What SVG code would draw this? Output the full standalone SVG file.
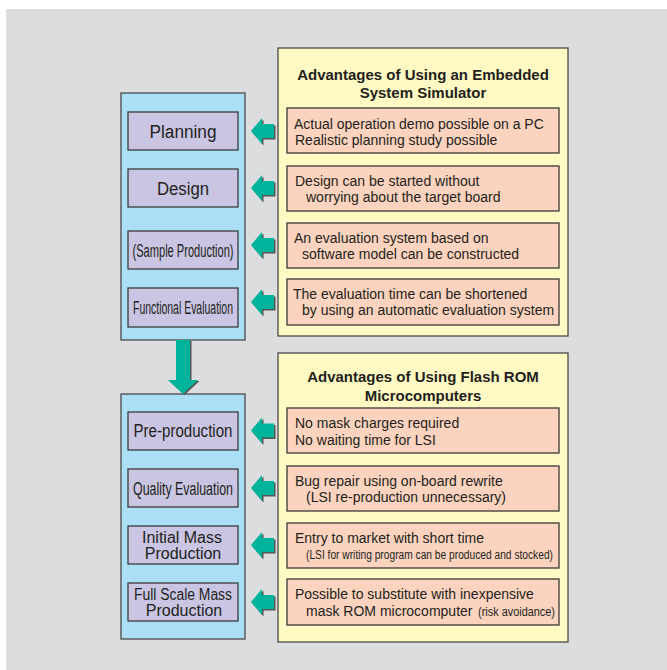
<svg xmlns="http://www.w3.org/2000/svg" xmlns:xlink="http://www.w3.org/1999/xlink" width="667" height="670" viewBox="0 0 667 670">
<style>
.bg{fill:#dcdddf}
.outer{fill:#aadff5;stroke:#4a4a4a;stroke-width:1.3}
.panel{fill:#fff9c3;stroke:#4a4a4a;stroke-width:1.3}
.step{fill:#c9c5e2;stroke:#3a3a3a;stroke-width:1.3}
.adv{fill:#fcd3be;stroke:#3a3a3a;stroke-width:1.3}
.shadow{fill:#555}
.arrow{fill:#00b39b}
text{font-family:"Liberation Sans",Arial,sans-serif;fill:#231f20}
.title{font-size:15px;font-weight:bold;text-anchor:middle}
.lbl{text-anchor:middle}
.t{font-size:14px}
.s{font-size:12.5px}
</style>
<defs>
<path id="la" d="M0,0 L11,-13 L11,-7 L23,-7 L23,7 L11,7 L11,13 Z"/>
</defs>
<rect class="bg" x="6" y="9" width="661" height="661"/>

<g id="phase1">
<rect class="outer" x="121" y="93" width="124" height="247"/>
</g>
<g id="phase2">
<rect class="outer" x="121" y="394" width="124" height="245"/>
</g>

<g id="planning">
<rect class="step" x="128" y="112" width="110" height="38"/>
<text class="lbl" x="183" y="138" font-size="18" textLength="67" lengthAdjust="spacingAndGlyphs">Planning</text>
</g>
<g id="design">
<rect class="step" x="128" y="169" width="110" height="38"/>
<text class="lbl" x="183" y="195" font-size="18" textLength="52" lengthAdjust="spacingAndGlyphs">Design</text>
</g>
<g id="sample-production">
<rect class="step" x="128" y="231" width="110" height="38"/>
<text class="lbl" x="183" y="257" font-size="18" textLength="101" lengthAdjust="spacingAndGlyphs">(Sample Production)</text>
</g>
<g id="functional-evaluation">
<rect class="step" x="128" y="288" width="110" height="39"/>
<text class="lbl" x="183" y="314" font-size="17.5" textLength="100" lengthAdjust="spacingAndGlyphs">Functional Evaluation</text>
</g>

<g id="pre-production">
<rect class="step" x="128" y="412" width="110" height="38"/>
<text class="lbl" x="183" y="437" font-size="17.5" textLength="99" lengthAdjust="spacingAndGlyphs">Pre-production</text>
</g>
<g id="quality-evaluation">
<rect class="step" x="128" y="469" width="110" height="38"/>
<text class="lbl" x="183" y="495" font-size="17.5" textLength="100" lengthAdjust="spacingAndGlyphs">Quality Evaluation</text>
</g>
<g id="initial-mass-production">
<rect class="step" x="128" y="526" width="110" height="38"/>
<text class="lbl" x="182" y="543" font-size="16">Initial Mass</text>
<text class="lbl" x="183" y="559" font-size="16">Production</text>
</g>
<g id="full-scale-mass-production">
<rect class="step" x="128" y="583" width="110" height="38"/>
<text class="lbl" x="183" y="600" font-size="16" textLength="98" lengthAdjust="spacingAndGlyphs">Full Scale Mass</text>
<text class="lbl" x="184" y="616" font-size="16">Production</text>
</g>

<g id="simulator-panel">
<rect class="panel" x="278" y="48" width="290" height="288"/>
<text class="title" x="423" y="80">Advantages of Using an Embedded</text>
<text class="title" x="423" y="98">System Simulator</text>
</g>
<g id="sim-adv-1">
<rect class="adv" x="287" y="108" width="272" height="45"/>
<text class="t" x="294" y="129">Actual operation demo possible on a PC</text>
<text class="t" x="295" y="145">Realistic planning study possible</text>
</g>
<g id="sim-adv-2">
<rect class="adv" x="287" y="166" width="272" height="45"/>
<text class="t" x="295" y="186">Design can be started without</text>
<text class="t" x="306" y="202">worrying about the target board</text>
</g>
<g id="sim-adv-3">
<rect class="adv" x="287" y="223" width="272" height="45"/>
<text class="t" x="294" y="243">An evaluation system based on</text>
<text class="t" x="302" y="259">software model can be constructed</text>
</g>
<g id="sim-adv-4">
<rect class="adv" x="287" y="279" width="272" height="46"/>
<text class="t" x="293" y="299">The evaluation time can be shortened</text>
<text class="t" x="302" y="315">by using an automatic evaluation system</text>
</g>

<g id="flash-panel">
<rect class="panel" x="278" y="353" width="290" height="289"/>
<text class="title" x="423" y="382">Advantages of Using Flash ROM</text>
<text class="title" x="423" y="401">Microcomputers</text>
</g>
<g id="flash-adv-1">
<rect class="adv" x="287" y="408" width="272" height="45"/>
<text class="t" x="295" y="428">No mask charges required</text>
<text class="t" x="295" y="445">No waiting time for LSI</text>
</g>
<g id="flash-adv-2">
<rect class="adv" x="287" y="466" width="272" height="45"/>
<text class="t" x="295" y="486">Bug repair using on-board rewrite</text>
<text class="t" x="306" y="502">(LSI re-production unnecessary)</text>
</g>
<g id="flash-adv-3">
<rect class="adv" x="287" y="523" width="272" height="45"/>
<text class="t" x="295" y="543">Entry to market with short time</text>
<text class="s" x="306" y="559" textLength="247" lengthAdjust="spacingAndGlyphs">(LSI for writing program can be produced and stocked)</text>
</g>
<g id="flash-adv-4">
<rect class="adv" x="287" y="579" width="272" height="46"/>
<text class="t" x="295" y="599">Possible to substitute with inexpensive</text>
<text class="t" x="306" y="616">mask ROM microcomputer <tspan class="s" x="478" textLength="77" lengthAdjust="spacingAndGlyphs">(risk avoidance)</tspan></text>
</g>

<g id="connectors">
<use href="#la" xlink:href="#la" class="shadow" transform="translate(252.5,132.5)"/>
<use href="#la" xlink:href="#la" class="arrow" transform="translate(251,131)"/>
<use href="#la" xlink:href="#la" class="shadow" transform="translate(252.5,189.5)"/>
<use href="#la" xlink:href="#la" class="arrow" transform="translate(251,188)"/>
<use href="#la" xlink:href="#la" class="shadow" transform="translate(252.5,246.5)"/>
<use href="#la" xlink:href="#la" class="arrow" transform="translate(251,245)"/>
<use href="#la" xlink:href="#la" class="shadow" transform="translate(252.5,303.5)"/>
<use href="#la" xlink:href="#la" class="arrow" transform="translate(251,302)"/>
<use href="#la" xlink:href="#la" class="shadow" transform="translate(252.5,432)"/>
<use href="#la" xlink:href="#la" class="arrow" transform="translate(251,430.5)"/>
<use href="#la" xlink:href="#la" class="shadow" transform="translate(252.5,489.5)"/>
<use href="#la" xlink:href="#la" class="arrow" transform="translate(251,488)"/>
<use href="#la" xlink:href="#la" class="shadow" transform="translate(252.5,546.5)"/>
<use href="#la" xlink:href="#la" class="arrow" transform="translate(251,545)"/>
<use href="#la" xlink:href="#la" class="shadow" transform="translate(252.5,603.5)"/>
<use href="#la" xlink:href="#la" class="arrow" transform="translate(251,602)"/>
<path class="shadow" d="M177.5,341 L191.5,341 L191.5,381 L199.5,381 L184.5,395 L169.5,381 L177.5,381 Z"/>
<path class="arrow" d="M176,340 L190,340 L190,380 L198,380 L183,394 L168,380 L176,380 Z"/>
</g>
</svg>
